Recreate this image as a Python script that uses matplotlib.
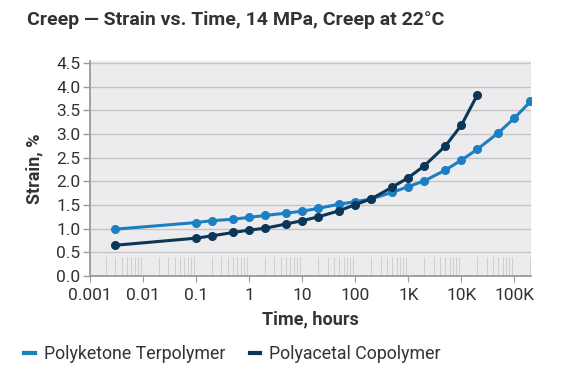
import matplotlib
matplotlib.use("Agg")
import matplotlib.pyplot as plt
from matplotlib.ticker import FixedLocator, LogLocator, NullFormatter
from matplotlib.lines import Line2D

plt.rcParams['font.family'] = ['Roboto', 'DejaVu Sans']

time_pk = [0.003, 0.1, 0.2, 0.5, 1, 2, 5, 10, 20, 50, 100, 200, 500, 1000, 2000, 5000, 10000, 20000, 50000, 100000, 200000]
strain_pk = [0.99, 1.13, 1.17, 1.20, 1.24, 1.28, 1.33, 1.37, 1.43, 1.52, 1.57, 1.63, 1.77, 1.89, 2.01, 2.24, 2.45, 2.68, 3.03, 3.34, 3.69]

time_pa = [0.003, 0.1, 0.2, 0.5, 1, 2, 5, 10, 20, 50, 100, 200, 500, 1000, 2000, 5000, 10000, 20000]
strain_pa = [0.65, 0.80, 0.85, 0.92, 0.97, 1.01, 1.10, 1.17, 1.25, 1.38, 1.51, 1.63, 1.88, 2.08, 2.33, 2.75, 3.19, 3.83]

x_ticks = [0.001, 0.01, 0.1, 1, 10, 100, 1000, 10000, 100000]
x_ticklabels = ['0.001', '0.01', '0.1', '1', '10', '100', '1K', '10K', '100K']
y_ticks = [0.0, 0.5, 1.0, 1.5, 2.0, 2.5, 3.0, 3.5, 4.0, 4.5]

series_names = ['Polyketone Terpolymer', 'Polyacetal Copolymer']
c_light = '#1c7fc2'
c_dark = '#0c3657'
txt = '#333333'

fig = plt.figure(figsize=(5.64, 3.76), dpi=100)
fig.patch.set_facecolor('white')
ax = fig.add_axes([90/564, 1-276/376, 441/564, 215.2/376])
ax.set_facecolor('#ececee')

ax.set_xscale('log')
ax.set_xlim(0.001, 2.05e5)
ax.set_ylim(0, 4.55)

ax.yaxis.set_major_locator(FixedLocator(y_ticks))
ax.set_yticklabels([f'{v:.1f}' for v in y_ticks])
ax.xaxis.set_major_locator(FixedLocator(x_ticks))
ax.set_xticklabels(x_ticklabels)
ax.xaxis.set_minor_locator(LogLocator(base=10, subs=[2, 3, 4, 5, 6, 7, 8, 9], numticks=20))
ax.xaxis.set_minor_formatter(NullFormatter())

ax.grid(axis='y', color='#c4c4c4', linewidth=1.0)
ax.set_axisbelow(True)

for s in ['top', 'right']:
    ax.spines[s].set_visible(False)
for s in ['left', 'bottom']:
    ax.spines[s].set_color('#9a9a9a')
    ax.spines[s].set_linewidth(1.3)

ax.tick_params(axis='y', which='major', length=5, color='#9a9a9a', width=1.0,
               labelsize=12.5, labelcolor=txt, pad=2)
ax.tick_params(axis='x', which='major', length=4, color='#9a9a9a', width=0.8,
               labelsize=12.5, labelcolor=txt, pad=5)
ax.tick_params(axis='x', which='minor', direction='in', length=14, color='#cfcfd2', width=0.7)

ax.plot(time_pk, strain_pk, color=c_light, linewidth=2.2, marker='o', markersize=5.5, zorder=3)
ax.plot(time_pa, strain_pa, color=c_dark, linewidth=2.2, marker='o', markersize=5.5, zorder=4)

ax.set_xlabel('Time, hours', fontsize=13, fontweight='bold', color=txt, labelpad=5)
ax.set_ylabel('Strain, %', fontsize=13, fontweight='bold', color=txt, labelpad=9)

fig.text(27/564, 1-20/376, 'Creep — Strain vs. Time, 14 MPa, Creep at 22°C',
         fontsize=14, fontweight='bold', color=txt, ha='left', va='center')

handles = [Line2D([0], [0], color=c_light, linewidth=3),
           Line2D([0], [0], color=c_dark, linewidth=3)]
fig.legend(handles, series_names, loc='center left', bbox_to_anchor=(8/564, 1-354/376),
           ncol=2, frameon=False, fontsize=12.8, handlelength=0.6, handletextpad=0.5,
           columnspacing=1.4, labelcolor=txt)

fig.savefig('out.png', dpi=100)
